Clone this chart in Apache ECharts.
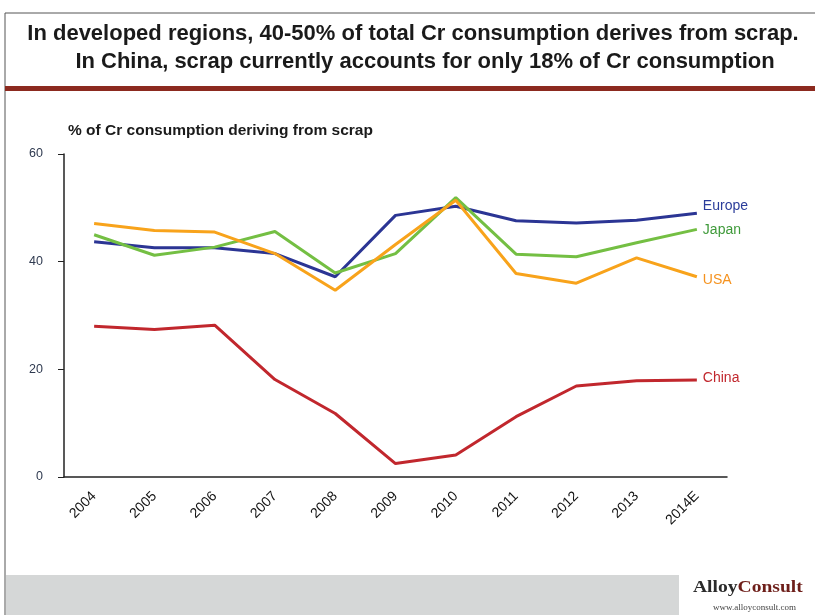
<!DOCTYPE html>
<html><head><meta charset="utf-8">
<script src="https://cdn.jsdelivr.net/npm/echarts@6/dist/echarts.min.js"></script>
<style>html,body{margin:0;padding:0;background:#fff}#c{width:815px;height:615px}</style>
</head><body><div id="c"></div>
<script>
const categories = ['2004','2005','2006','2007','2008','2009','2010','2011','2012','2013','2014E'];
const europe = [43.7,42.6,42.6,41.5,37.2,48.6,50.3,47.6,47.2,47.7,49.0];
const japan  = [45.0,41.2,42.7,45.6,37.9,41.5,51.9,41.4,40.9,43.5,46.0];
const usa    = [47.1,45.8,45.5,41.5,34.7,43.2,51.4,37.8,36.0,40.7,37.2];
const china  = [28.0,27.4,28.2,18.1,11.8,2.5,4.1,11.2,16.9,17.9,18.0];
const yTicks = [0,20,40,60];

const chart = echarts.init(document.getElementById('c'), null, {renderer:'canvas'});
function line(name, data, color, labelColor, dy){
  return {name, type:'line', data, symbol:'none', smooth:false,
    lineStyle:{color, width:3}, itemStyle:{color},
    endLabel:{show:true, formatter:name, color:labelColor, fontSize:14,
      fontFamily:'Liberation Sans, Arial, sans-serif', offset:[-2,dy]}};
}
const titleFont = 'bold 22px "Liberation Sans", Arial, sans-serif';
chart.setOption({
  animation:false,
  grid:{left:64, right:88, top:154, bottom:138, containLabel:false},
  graphic:[
    {type:'line', shape:{x1:5,y1:13,x2:815,y2:13}, style:{stroke:'#555',lineWidth:1}},
    {type:'line', shape:{x1:5,y1:13,x2:5,y2:615}, style:{stroke:'#555',lineWidth:1}},
    {type:'rect', shape:{x:5,y:86,width:810,height:5}, style:{fill:'#8c2a1f'}},
    {type:'text', x:413, y:34, style:{text:'In developed regions, 40-50% of total Cr consumption derives from scrap.', font:titleFont, fill:'#1a1a1a', align:'center', verticalAlign:'middle'}},
    {type:'text', x:425, y:62, style:{text:'In China, scrap currently accounts for only 18% of Cr consumption', font:titleFont, fill:'#1a1a1a', align:'center', verticalAlign:'middle'}},
    {type:'text', x:68, y:131, style:{text:'% of Cr consumption deriving from scrap', font:'bold 15.5px "Liberation Sans", Arial, sans-serif', fill:'#1a1a1a', verticalAlign:'middle'}},
    {type:'rect', shape:{x:6,y:575,width:673,height:40}, style:{fill:'#d5d7d7'}},
    {type:'text', x:693, y:579, scaleX:1.15, originX:0, originY:0, style:{rich:{a:{fill:'#2a2a2a',font:'bold 17px "Liberation Serif", "DejaVu Serif", serif'},b:{fill:'#6e1f1a',font:'bold 17px "Liberation Serif", "DejaVu Serif", serif'}}, text:'{a|Alloy}{b|Consult}'}},
    {type:'text', x:713, y:603, style:{text:'www.alloyconsult.com', font:'9px "Liberation Serif", serif', fill:'#444'}}
  ],
  xAxis:{type:'category', data:categories, boundaryGap:true,
    axisLine:{lineStyle:{color:'#222', width:1.5}}, axisTick:{show:false},
    axisLabel:{rotate:45, color:'#111', fontSize:14, fontFamily:'Liberation Sans, Arial, sans-serif', margin:17, interval:0}},
  yAxis:{type:'value', min:0, max:60, interval:20,
    axisLine:{show:true, lineStyle:{color:'#222', width:1.5}},
    axisTick:{show:true, length:6, lineStyle:{color:'#222'}},
    splitLine:{show:false},
    axisLabel:{color:'#2f3a50', fontSize:12.5, fontFamily:'Liberation Sans, Arial, sans-serif', margin:21,
      formatter:v=>yTicks.includes(v)?String(v):''}},
  series:[
    line('Europe', europe, '#2b3594', '#2b3d9a', -7),
    line('Japan', japan, '#74bf43', '#3f9a3a', 1),
    line('USA', usa, '#f8a31b', '#f5921e', 3),
    line('China', china, '#c1272d', '#c1272d', -2)
  ]
});
</script></body></html>
